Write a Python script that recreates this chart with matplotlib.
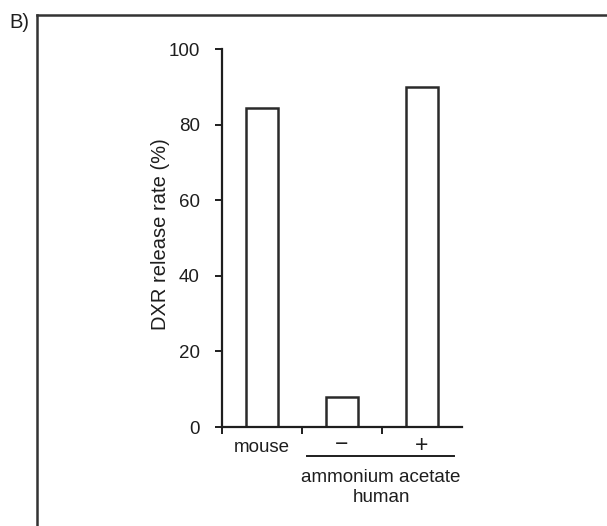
import matplotlib
matplotlib.use("Agg")
import matplotlib.pyplot as plt
from matplotlib.lines import Line2D

plt.rcParams['font.family'] = ['Liberation Sans', 'DejaVu Sans']

# Data
categories = ["mouse", "\u2212", "+"]
values = [84.5, 8, 90]
yticks = [0, 20, 40, 60, 80, 100]
ylabel = "DXR release rate (%)"
group_label = "ammonium acetate"
species_label = "human"
panel_label = "B)"

W, H = 607, 526
fig = plt.figure(figsize=(W / 100, H / 100), dpi=100)
ink = '#1e1e1e'

ax = fig.add_axes([222 / W, 1 - 427 / H, (462 - 222) / W, (427 - 49) / H])
x = list(range(len(categories)))
ax.bar(x, values, width=0.4, facecolor='white', edgecolor='#2a2a2a', linewidth=1.8)
ax.set_xlim(-0.5, 2.5)
ax.set_ylim(0, 100)
ax.set_yticks(yticks)
ax.set_yticklabels([str(v) for v in yticks], fontsize=13.5, color=ink)
ax.tick_params(axis='y', direction='out', length=5, width=1.4, pad=11, color=ink)
ax.set_xticks([-0.5, 0.5, 1.5])
ax.set_xticklabels([])
ax.tick_params(axis='x', direction='out', length=5, width=1.4, color=ink)
for s in ['top', 'right']:
    ax.spines[s].set_visible(False)
for s in ['left', 'bottom']:
    ax.spines[s].set_linewidth(1.6)
    ax.spines[s].set_color(ink)
ax.set_ylabel(ylabel, fontsize=14.5, color=ink)
ax.yaxis.set_label_coords(-0.215, 0.51)

# category labels
for xi, lab in zip(x, categories):
    ax.annotate(lab, xy=(xi, 0), xycoords=('data', 'axes fraction'),
                xytext=(0, -20 if xi == 0 else -18), textcoords='offset pixels',
                ha='center', va='center', fontsize=13.5 if xi == 0 else 16.5, color=ink)

# group line and labels
grp_line = Line2D([307 / W, 454 / W], [1 - 456 / H, 1 - 456 / H], transform=fig.transFigure,
                  color=ink, linewidth=1.4)
fig.add_artist(grp_line)
ax.annotate(group_label, xy=(1.48, 0), xycoords=('data', 'axes fraction'),
            xytext=(0, -50), textcoords='offset pixels',
            ha='center', va='center', fontsize=13.5, color=ink)
ax.annotate(species_label, xy=(1.5, 0), xycoords=('data', 'axes fraction'),
            xytext=(0, -70), textcoords='offset pixels',
            ha='center', va='center', fontsize=13.5, color=ink)

# outer frame and panel label
fig.add_artist(Line2D([37 / W, 1.0], [1 - 15 / H, 1 - 15 / H], transform=fig.transFigure,
                      color='#333333', linewidth=1.8))
fig.add_artist(Line2D([37 / W, 37 / W], [1 - 15 / H, 0.0], transform=fig.transFigure,
                      color='#333333', linewidth=1.8))
fig.text(9 / W, 1 - 23 / H, panel_label, fontsize=14.5, color=ink, ha='left', va='center')

fig.savefig("out.png", dpi=100)
